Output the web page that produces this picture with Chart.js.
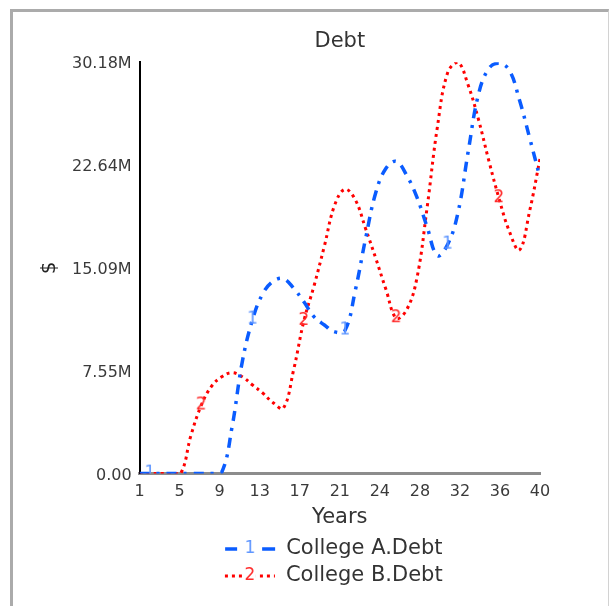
<!DOCTYPE html>
<html>
<head>
<meta charset="utf-8">
<script src="https://cdn.jsdelivr.net/npm/chart.js@4.4.1/dist/chart.umd.min.js"></script>
<style>
  html, body { margin: 0; padding: 0; background: #fff; overflow: hidden; }
  #frame { position: absolute; left: 10px; top: 9px; width: 595px; height: 610px;
    border-top: 3px solid #ababab; border-left: 3px solid #ababab; border-right: 1px solid #d2d2d2; }
  #wrap { position: absolute; left: 0; top: 0; width: 610px; height: 606px; }
</style>
</head>
<body>
<div id="frame"></div>
<div id="wrap"><canvas id="myChart" width="610" height="606"></canvas></div>
<script>
// values in millions of $
const years = [1, 2, 3, 4, 5, 6, 7, 8, 9, 10, 11, 12, 13, 14, 15, 16, 17, 18, 19, 20,
  21, 22, 23, 24, 25, 26, 27, 28, 29, 30, 31, 32, 33, 34, 35, 36, 37, 38, 39, 40];
const collegeA = [0, 0, 0, 0, 0, 0, 0, 0, 0.1, 3.4, 8.2, 11.3, 13.2, 14.1, 14.3, 13.6, 12.6, 11.5, 10.9, 10.4,
  10.5, 13.4, 17.2, 20.6, 22.4, 22.9, 21.9, 20.3, 18.1, 16.0, 16.8, 19.1, 23.6, 27.8, 29.7, 30.1, 29.6, 27.4, 24.6, 21.7];
const collegeB = [0, 0, 0, 0, 0, 2.8, 5.0, 6.4, 7.1, 7.4, 7.1, 6.5, 5.9, 5.2, 4.8, 7.6, 11.2, 13.8, 16.7, 19.7,
  20.85, 20.1, 18.0, 15.8, 13.5, 11.4, 12.0, 14.3, 19.5, 25.4, 29.4, 30.18, 28.5, 26.0, 23.0, 20.2, 17.8, 16.4, 19.3, 23.1];

const xTickValues = [1, 4.9, 8.8, 12.7, 16.6, 20.5, 24.4, 28.3, 32.2, 36.1, 40];
const xTickLabels = ['1', '5', '9', '13', '17', '21', '24', '28', '32', '36', '40'];
const yTickValues = [0, 7.545, 15.09, 22.635, 30.18];
const yTickLabels = ['0.00', '7.55M', '15.09M', '22.64M', '30.18M'];

// years where the series number is written on the line
const markYearsA = [2, 12, 21, 31];
const markYearsB = [7, 17, 26, 36];

function numberImage(text, color) {
  const c = document.createElement('canvas');
  c.width = 14;
  c.height = 20;
  const g = c.getContext('2d');
  g.font = '17px "DejaVu Sans"';
  g.fillStyle = color;
  g.textAlign = 'center';
  g.textBaseline = 'middle';
  g.fillText(text, 7, 10);
  return c;
}

const imgA = numberImage('1', '#5f96ff');
const imgB = numberImage('2', '#ff2a2a');

// legend drawn as two stacked rows under the x axis title
const stackedLegend = {
  id: 'stackedLegend',
  afterDraw(chart) {
    const {ctx, chartArea} = chart;
    const xAxis = chart.scales.x;
    ctx.save();
    ctx.font = '21px "DejaVu Sans"';
    ctx.textBaseline = 'middle';
    chart.data.datasets.forEach((ds, i) => {
      const textW = ctx.measureText(ds.label).width;
      const left = (chartArea.left + chartArea.right) / 2 - (50 + 11 + textW) / 2 - 6;
      const y = xAxis.bottom + 15 + i * 27;
      ctx.strokeStyle = ds.borderColor;
      ctx.lineWidth = ds.borderWidth;
      ctx.setLineDash(ds.legendDash);
      ctx.beginPath();
      ctx.moveTo(left, y);
      ctx.lineTo(left + 50, y);
      ctx.stroke();
      ctx.setLineDash([]);
      ctx.fillStyle = '#fff';
      ctx.fillRect(left + 19, y - 9, 12, 18);
      ctx.drawImage(ds.markImg, left + 25 - 7, y - 10);
      ctx.fillStyle = '#333';
      ctx.fillText(ds.label, left + 61, y);
    });
    ctx.restore();
  }
};

function mainEvent() {
  const ctx = document.getElementById('myChart');

  new Chart(ctx, {
    type: 'line',
    data: {
      datasets: [{
        label: 'College A.Debt',
        data: years.map((yr, i) => ({x: yr, y: collegeA[i]})),
        borderColor: '#0a5cff',
        borderWidth: 3.5,
        borderDash: [10, 7, 3, 7],
        legendDash: [12, 25, 13],
        markImg: imgA,
        tension: 0.4,
        fill: false,
        pointRadius: (c) => markYearsA.includes(years[c.dataIndex]) ? 6 : 0,
        pointStyle: (c) => markYearsA.includes(years[c.dataIndex]) ? imgA : 'circle'
      }, {
        label: 'College B.Debt',
        data: years.map((yr, i) => ({x: yr, y: collegeB[i]})),
        borderColor: '#ff0000',
        borderWidth: 3,
        borderDash: [3, 4],
        legendDash: [3, 4],
        markImg: imgB,
        tension: 0.4,
        fill: false,
        pointRadius: (c) => markYearsB.includes(years[c.dataIndex]) ? 6 : 0,
        pointStyle: (c) => markYearsB.includes(years[c.dataIndex]) ? imgB : 'circle'
      }]
    },
    options: {
      responsive: false,
      animation: false,
      devicePixelRatio: 1,
      events: [],
      font: {family: '"DejaVu Sans"'},
      layout: {padding: {left: 36, right: 70, top: 22, bottom: 72}},
      plugins: {
        legend: {display: false},
        title: {display: false},
        tooltip: {enabled: false}
      },
      scales: {
        x: {
          type: 'linear',
          min: 1,
          max: 40,
          afterBuildTicks: (s) => { s.ticks = xTickValues.map((v) => ({value: v})); },
          ticks: {
            callback: (v, i) => xTickLabels[i],
            autoSkip: false,
            maxRotation: 0,
            font: {family: '"DejaVu Sans"', size: 16},
            color: '#3a3a3a',
            padding: 9
          },
          grid: {display: false, drawTicks: false},
          border: {display: true, color: '#8c8c8c', width: 3},
          title: {
            display: true,
            text: 'Years',
            font: {family: '"DejaVu Sans"', size: 21},
            color: '#333',
            padding: {top: -6, bottom: 4}
          }
        },
        top: {
          type: 'linear',
          position: 'top',
          display: true,
          min: 0,
          max: 1,
          ticks: {display: false},
          grid: {display: false, drawTicks: false},
          border: {display: false},
          title: {
            display: true,
            text: 'Debt',
            font: {family: '"DejaVu Sans"', size: 21},
            color: '#333',
            padding: {top: 7, bottom: 8}
          }
        },
        y: {
          type: 'linear',
          min: 0,
          max: 30.18,
          afterBuildTicks: (s) => { s.ticks = yTickValues.map((v) => ({value: v})); },
          ticks: {
            callback: (v, i) => yTickLabels[i],
            font: {family: '"DejaVu Sans"', size: 16},
            color: '#3a3a3a',
            padding: 8,
            labelOffset: 2
          },
          grid: {display: false, drawTicks: false},
          border: {display: true, color: '#000', width: 2},
          title: {
            display: true,
            text: '$',
            font: {family: '"DejaVu Sans"', size: 20},
            color: '#222',
            padding: {top: 2, bottom: 2}
          }
        }
      }
    },
    plugins: [stackedLegend]
  });
}
document.addEventListener('DOMContentLoaded', () => mainEvent());
</script>
</body>
</html>
